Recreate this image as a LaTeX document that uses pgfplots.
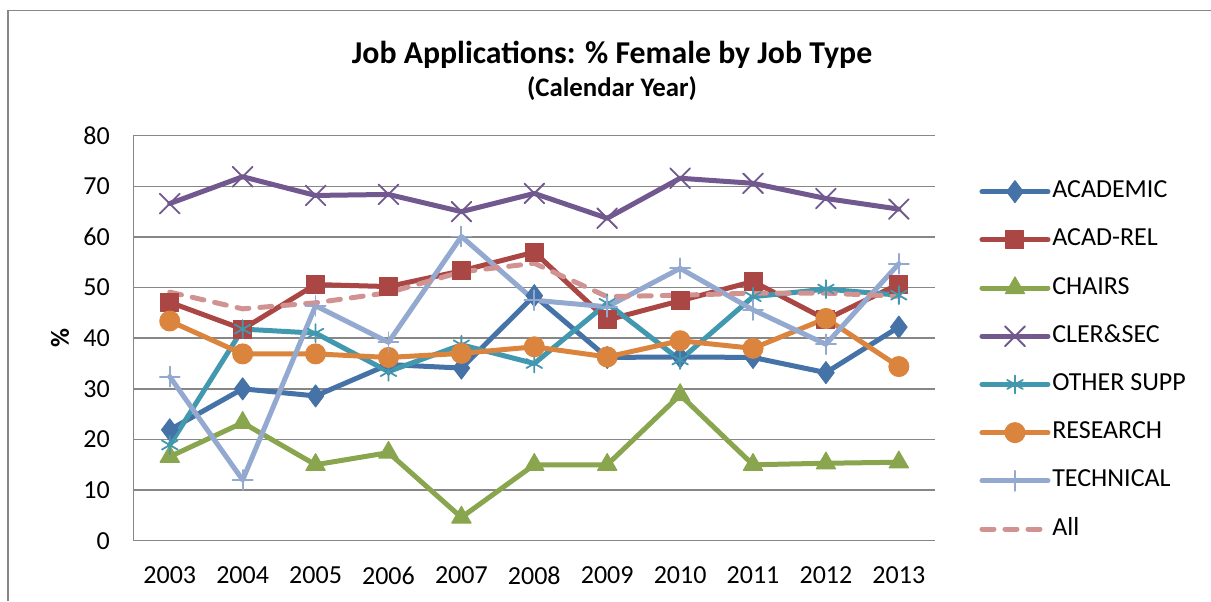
\documentclass[border=0pt]{standalone}
\usepackage{fontspec}
\setmainfont{Carlito}
\usepackage{pgfplots}
\pgfplotsset{compat=1.18}
\usepackage{pgfplotstable}

\definecolor{cAcad}{HTML}{4572A7}
\definecolor{cRel}{HTML}{AA4643}
\definecolor{cChairs}{HTML}{89A54E}
\definecolor{cCler}{HTML}{71588F}
\definecolor{cOther}{HTML}{4198AF}
\definecolor{cRes}{HTML}{DB843D}
\definecolor{cTech}{HTML}{93A9CF}
\definecolor{cAll}{HTML}{D19392}
\definecolor{gridgray}{HTML}{878787}

\pgfplotstableread{
idx ac rel ch cl ot re te al
0 21.9 47.1 16.6 66.6 18.9 43.4 32.4 49.1
1 30.0 41.8 23.3 71.9 41.8 36.9 12.0 45.8
2 28.6 50.6 15.0 68.2 41.0 36.9 46.4 47.0
3 34.8 50.2 17.4 68.4 33.4 36.2 39.2 49.0
4 34.1 53.3 4.6 65.0 38.7 37.0 60.1 53.1
5 48.4 57.0 15.0 68.6 35.0 38.3 47.5 54.8
6 36.2 43.6 15.0 63.7 46.9 36.3 46.2 48.2
7 36.3 47.4 28.8 71.6 35.7 39.5 53.8 48.5
8 36.2 51.2 15.0 70.6 48.2 38.0 45.6 48.9
9 33.2 43.7 15.3 67.6 49.7 43.9 38.8 48.9
10 42.2 50.7 15.5 65.5 48.5 34.4 54.7 48.3
}\datatable

\begin{document}
\begin{tikzpicture}
\useasboundingbox (0,0) rectangle (605.5pt,300.5pt);
\draw[gridgray, line width=0.75pt] (4pt,0pt) -- (4pt,295.25pt) -- (606pt,295.25pt);
\node[font=\bfseries\fontsize{15.9}{18}\selectfont, anchor=base] at (306pt,268.6pt) {Job Applications: \% Female by Job Type};
\node[font=\bfseries\fontsize{13.4}{16}\selectfont, anchor=base] at (306pt,252.3pt) {(Calendar Year)};
\begin{axis}[
  at={(66.65pt,30.15pt)}, anchor=south west,
  scale only axis, width=401pt, height=202.5pt,
  xmin=-0.5, xmax=10.5, ymin=0, ymax=80,
  xtick={0,1,2,3,4,5,6,7,8,9,10},
  xticklabels={2003,2004,2005,2006,2007,2008,2009,2010,2011,2012,2013},
  ytick={0,10,20,30,40,50,60,70,80},
  major tick length=0pt,
  /pgf/number format/assume math mode=true,
  ticklabel style={font=\fontsize{13}{15}\selectfont},
  yticklabel style={xshift=-8.2pt},
  xticklabel style={yshift=-9.5pt},
  axis x line*=bottom, axis y line*=left,
  axis line style={gridgray, line width=0.75pt, -},
  ymajorgrids, major grid style={gridgray, line width=0.75pt},
  ylabel={\%},
  ylabel style={font=\bfseries\fontsize{13}{15}\selectfont, at={(axis description cs:-0.0914,0.5005)}, rotate=0, anchor=center},
  legend style={at={(axis description cs:1.0471,0.9024)}, anchor=north west, draw=none, fill=none,
    font=\fontsize{13}{15}\selectfont, row sep=12.1pt, column sep=0.9pt,
    nodes={inner sep=0pt, text height=9pt, text depth=3pt}},
  legend cell align=left,
  legend image code/.code={\draw[mark repeat=2,mark phase=2,#1] plot coordinates {(0pt,0pt) (16.5pt,0pt) (33pt,0pt)};},
  every axis plot/.append style={line width=2.5pt, line join=round, line cap=round},
]
\addplot[cAcad, mark=diamond*, mark size=5.5pt, mark options={fill=cAcad, line width=0.5pt}] table[x=idx,y=ac]{\datatable};
\addlegendentry{ACADEMIC}
\addplot[cRel, mark=square*, mark size=4.5pt, mark options={fill=cRel, line width=0.5pt}] table[x=idx,y=rel]{\datatable};
\addlegendentry{ACAD-REL}
\addplot[cChairs, mark=triangle*, mark size=5.6pt, mark options={fill=cChairs, line width=0.5pt}] table[x=idx,y=ch]{\datatable};
\addlegendentry{CHAIRS}
\addplot[cCler, mark=x, mark size=7pt, mark options={line width=0.9pt}] table[x=idx,y=cl]{\datatable};
\addlegendentry{CLER\&SEC}
\addplot[cOther, mark=asterisk, mark size=4.5pt, mark options={line width=0.9pt}] table[x=idx,y=ot]{\datatable};
\addlegendentry{OTHER SUPP}
\addplot[cRes, mark=*, mark size=5pt, mark options={fill=cRes, line width=0.5pt}] table[x=idx,y=re]{\datatable};
\addlegendentry{RESEARCH}
\addplot[cTech, mark=+, mark size=5pt, mark options={line width=0.9pt}] table[x=idx,y=te]{\datatable};
\addlegendentry{TECHNICAL}
\addplot[cAll, dash pattern=on 6pt off 5.5pt, no marks] table[x=idx,y=al]{\datatable};
\addlegendentry{All}
\end{axis}
\end{tikzpicture}
\end{document}
